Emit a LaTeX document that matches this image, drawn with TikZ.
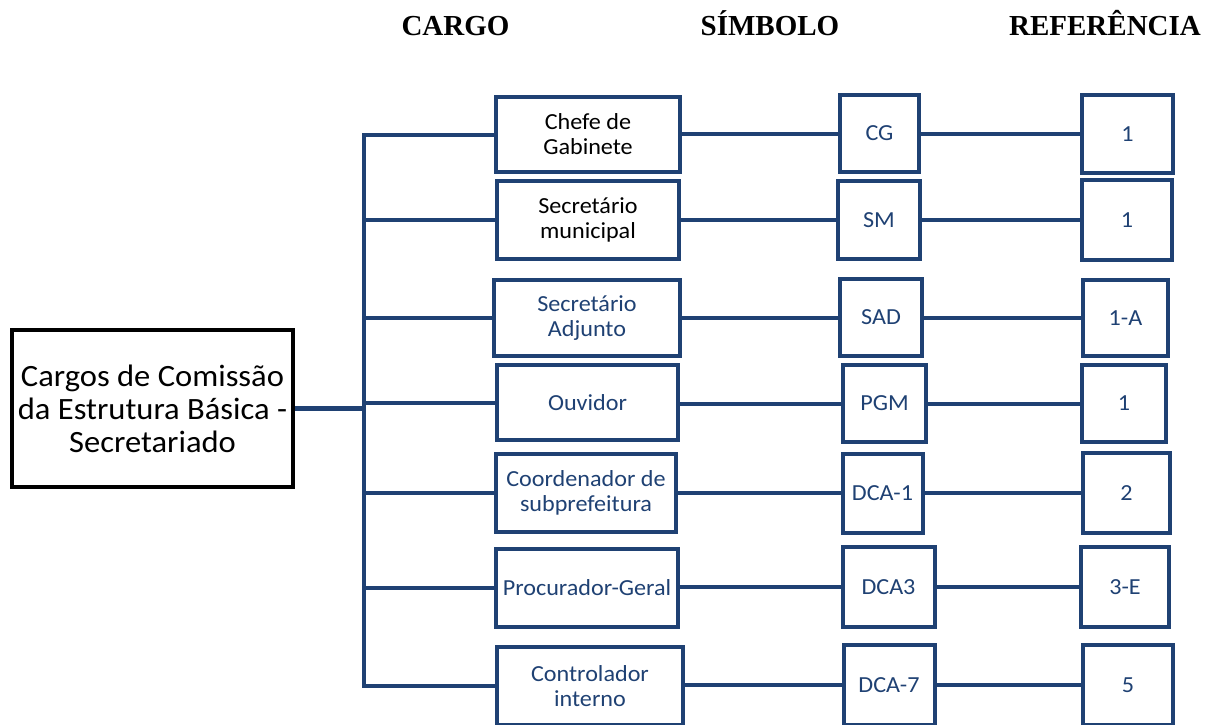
\documentclass[tikz,border=0pt]{standalone}
\usepackage{fontspec}
\setmainfont{Carlito}[FakeStretch = 1.05]
\newfontfamily\headfont{Liberation Serif}
\usetikzlibrary{calc}
\definecolor{azul}{HTML}{1F4173}

\tikzset{
  caixa/.style = {draw = azul, line width = 4pt, inner sep = 0pt, align = center,
    text = azul, font = \fontsize{23}{25}\selectfont},
  linha/.style = {draw = azul, line width = 4pt},
  cabec/.style = {anchor = base, inner sep = 0pt, font = \headfont\bfseries\fontsize{29}{30}\selectfont}
}

\begin{document}
\begin{tikzpicture}[x = 1pt, y = -1pt]
\useasboundingbox (0, 0) rectangle (1215, 724);
\clip (0, 0) rectangle (1215, 724);

\node[cabec] (hcargo) at (455.5, 35) {CARGO};
\node[cabec] (hsimb) at (770, 35) {SÍMBOLO};
\node[cabec] (href) at (1105, 35) {REFERÊNCIA};

\node[draw, line width = 4pt, inner sep = 0pt, align = center, minimum width = 281pt, minimum height = 157pt,
  font = \fontsize{31}{33}\selectfont] (main) at (152.5, 408.5) {Cargos de Comissão\\da Estrutura Básica -\\Secretariado};

\node[caixa, text = black, minimum width = 184pt, minimum height = 75pt] (c1) at (588, 134.5) {Chefe de\\Gabinete};
\node[caixa, text = black, minimum width = 182pt, minimum height = 78pt] (c2) at (588, 220) {Secretário\\municipal};
\node[caixa, minimum width = 186pt, minimum height = 76pt] (c3) at (587, 318) {Secretário\\Adjunto};
\node[caixa, minimum width = 181pt, minimum height = 75pt] (c4) at (587.5, 402.5) {Ouvidor};
\node[caixa, minimum width = 180pt, minimum height = 78pt] (c5) at (586, 493) {Coordenador de\\subprefeitura};
\node[caixa, minimum width = 182pt, minimum height = 78pt] (c6) at (587, 588) {Procurador-Geral};
\node[caixa, minimum width = 186pt, minimum height = 78pt] (c7) at (590, 686) {Controlador\\interno};

\node[caixa, minimum width = 79pt, minimum height = 77pt] (s1) at (879.5, 133.5) {CG};
\node[caixa, minimum width = 82pt, minimum height = 78pt] (s2) at (879, 220) {SM};
\node[caixa, minimum width = 82pt, minimum height = 77pt] (s3) at (881, 317.5) {SAD};
\node[caixa, minimum width = 83pt, minimum height = 77pt] (s4) at (884.5, 403.5) {PGM};
\node[caixa, minimum width = 80pt, minimum height = 79pt] (s5) at (882.5, 493) {DCA-1};
\node[caixa, minimum width = 92pt, minimum height = 80pt] (s6) at (888.5, 587) {DCA3};
\node[caixa, minimum width = 91pt, minimum height = 80pt] (s7) at (889, 685) {DCA-7};

\node[caixa, minimum width = 91pt, minimum height = 78pt] (r1) at (1127.5, 134) {1};
\node[caixa, minimum width = 90pt, minimum height = 80pt] (r2) at (1127, 220) {1};
\node[caixa, minimum width = 85pt, minimum height = 76pt] (r3) at (1125.5, 318) {1-A};
\node[caixa, minimum width = 84pt, minimum height = 77pt] (r4) at (1124, 403.5) {1};
\node[caixa, minimum width = 87pt, minimum height = 80pt] (r5) at (1126.5, 493) {2};
\node[caixa, minimum width = 88pt, minimum height = 80pt] (r6) at (1125, 587) {3-E};
\node[caixa, minimum width = 90pt, minimum height = 80pt] (r7) at (1128, 685) {5};

\draw[linha, line width = 5pt] (main.east) -- ++(69, 0) coordinate (bus);
\draw[linha] (c1.west) -- (bus |- c1.west) -- (bus |- c7.west) -- (c7.west);
\foreach \i in {2, ..., 6} {
  \draw[linha] (bus |- c\i.west) -- (c\i.west);
}
\foreach \i in {1, ..., 7} {
  \draw[linha] (c\i.east |- s\i.west) -- (s\i.west);
  \draw[linha] (s\i.east) -- (r\i.west |- s\i.east);
}
\end{tikzpicture}
\end{document}
